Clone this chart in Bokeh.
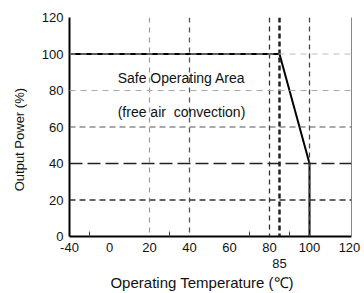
from bokeh.plotting import figure
from bokeh.models import Range1d, FixedTicker, Span, Label, LinearAxis
from bokeh.embed import file_html
from bokeh.resources import INLINE

# ---- data ----
curve_temp = [-40, 85, 100, 100]
curve_power = [100, 100, 40, 0]
x_tick_temps = [-40, 0, 20, 40, 60, 80, 100, 120]
x_minor_temps = [-20, 30, 70, 90]
y_ticks = [0, 20, 40, 60, 80, 100, 120]
v_grid_temps = [20, 40, 80, 85, 100]
h_grid_power = [100, 80, 60, 40, 20]
extra_label_temp = 85
area_title = "Safe Operating Area"
area_note = "(free air\u00a0 convection)"
x_title = "Operating Temperature (\u2103)"
y_title = "Output Power (%)"


def tpos(t):
    # broken temperature axis: -40..0 occupies one 20-degree slot
    if t < 0:
        return (t + 40) / 40.0
    return t / 20.0 + 1.0


FONT = "Liberation Sans"
TXT = "#111111"
NB = "\u00a0"

p = figure(width=362, height=293, output_backend="svg", toolbar_location=None,
           x_range=Range1d(0, 7.05), y_range=Range1d(0, 120),
           min_border_left=69, min_border_right=11, min_border_top=17, min_border_bottom=57)
p.grid.visible = False
p.outline_line_color = None
p.background_fill_color = "white"

# primary bottom axis
xa = p.xaxis[0]
xa.ticker = FixedTicker(ticks=[tpos(t) for t in x_tick_temps],
                        minor_ticks=[tpos(t) for t in x_minor_temps])
xa.major_label_overrides = {tpos(t): str(t) for t in x_tick_temps}
xa.major_tick_out = 0
xa.major_tick_in = 0
xa.minor_tick_out = 0
xa.minor_tick_in = 5
xa.minor_tick_line_color = "#444444"
xa.axis_line_color = "black"
xa.axis_line_width = 2
xa.major_label_standoff = 6
xa.major_label_text_font = FONT
xa.major_label_text_font_size = "13px"
xa.major_label_text_color = TXT

# secondary bottom axis: carries the extra "85" label and the axis title
xb = LinearAxis(ticker=FixedTicker(ticks=[tpos(extra_label_temp)], minor_ticks=[]),
                major_label_overrides={tpos(extra_label_temp): str(extra_label_temp)},
                axis_line_color=None, major_tick_out=0, major_tick_in=0,
                minor_tick_out=0, minor_tick_in=0, major_label_standoff=4,
                major_label_text_font=FONT, major_label_text_font_size="13px",
                major_label_text_color=TXT,
                axis_label=x_title + NB * 4,
                axis_label_text_font=FONT, axis_label_text_font_size="15px",
                axis_label_text_font_style="normal", axis_label_text_color=TXT,
                axis_label_standoff=3)
p.add_layout(xb, "below")

ya = p.yaxis[0]
ya.ticker = FixedTicker(ticks=y_ticks, minor_ticks=[])
ya.major_tick_out = 0
ya.major_tick_in = 0
ya.axis_line_color = "black"
ya.axis_line_width = 2
ya.major_label_standoff = 6
ya.major_label_text_font = FONT
ya.major_label_text_font_size = "13px"
ya.major_label_text_color = TXT
ya.axis_label = y_title + NB * 7
ya.axis_label_text_font = FONT
ya.axis_label_text_font_size = "13px"
ya.axis_label_text_font_style = "normal"
ya.axis_label_text_color = TXT
ya.axis_label_standoff = 12

ra = LinearAxis(ticker=FixedTicker(ticks=[]), axis_line_color="#888888",
                major_tick_out=0, major_tick_in=0, minor_tick_out=0, minor_tick_in=0,
                major_label_standoff=0, major_label_text_font_size="0px")
p.add_layout(ra, "right")

# grid lines (styles per line)
v_styles = {20: ("#999999", 1.2, "5 5"), 40: ("#555555", 1.3, "5 5"),
            80: ("#333333", 1.3, "5 4"), 85: ("#222222", 2.5, "5 3"),
            100: ("#444444", 1.3, "5 4")}
for t in v_grid_temps:
    c, w, d = v_styles[t]
    p.add_layout(Span(location=tpos(t), dimension="height", line_color=c,
                      line_width=w, line_dash=d))

h_styles = {100: ("#bbbbbb", 1.0, "6 5"), 80: ("#aaaaaa", 1.2, "6 5"),
            60: ("#555555", 1.2, "6 4"), 40: ("#222222", 1.4, "13 5"),
            20: ("#333333", 1.3, "6 4")}
for v in h_grid_power:
    c, w, d = h_styles[v]
    p.add_layout(Span(location=v, dimension="width", line_color=c,
                      line_width=w, line_dash=d))

# derating curve
p.line([tpos(t) for t in curve_temp], curve_power, line_color="black", line_width=2)

# texts
p.add_layout(Label(x=2.8, y=86.6, text=area_title, text_align="center",
                   text_baseline="middle", text_font=FONT, text_font_size="14px",
                   text_color=TXT))
p.add_layout(Label(x=2.8, y=68, text=area_note, text_align="center",
                   text_baseline="middle", text_font=FONT, text_font_size="14px",
                   text_color=TXT))

open("out.html", "w").write(file_html(p, INLINE))
